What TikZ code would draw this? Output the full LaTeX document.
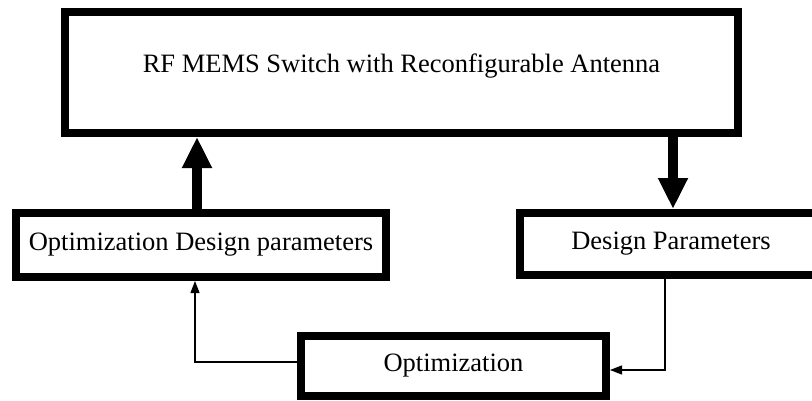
\documentclass[tikz,border=0pt]{standalone}
\usepackage{fontspec}
\setmainfont{Liberation Serif}
\usetikzlibrary{arrows.meta,positioning,calc}

\begin{document}
\begin{tikzpicture}[x=1pt,y=1pt,
    every node/.style={font=\fontsize{26.5}{30}\selectfont},
    box/.style={draw,line width=8pt,inner sep=0pt,align=center},
    bigarrow/.style={line width=10pt,-{Triangle[length=31pt,width=28pt]}},
    thinarrow/.style={line width=1.2pt,-{Triangle[length=12pt,width=9pt]}}]
  \useasboundingbox (0,0) rectangle (812,400);
  \clip (0,0) rectangle (812,400);
  \node[box,minimum width=673pt,minimum height=121pt,text height=10pt,text depth=10pt]
        (rfbox) at (401.5,327.5) {RF MEMS Switch with Reconfigurable Antenna};
  \node[box,minimum width=370pt,minimum height=64pt] (optdes) at (201,155)
        {Optimization Design parameters};
  \node[box,minimum width=302pt,minimum height=62pt] (despar) at (671,156)
        {Design Parameters};
  \node[box,minimum width=305pt,minimum height=60pt] (optim) at (453.5,34)
        {Optimization};
  % thick arrows to and from the top block
  \coordinate (upin) at ([xshift=-4pt]optdes.north);
  \coordinate (dnout) at ([xshift=271.5pt]rfbox.south);
  \draw[bigarrow] (upin) -- (upin |- rfbox.south);
  \draw[bigarrow] (dnout) -- (dnout |- despar.north);
  % thin loop through the optimizer
  \draw[thinarrow] ([xshift=-6pt]despar.south) |- ([yshift=-4pt]optim.east);
  \draw[thinarrow] ([yshift=4pt]optim.west) -| ([xshift=-6pt]optdes.south);
\end{tikzpicture}
\end{document}
